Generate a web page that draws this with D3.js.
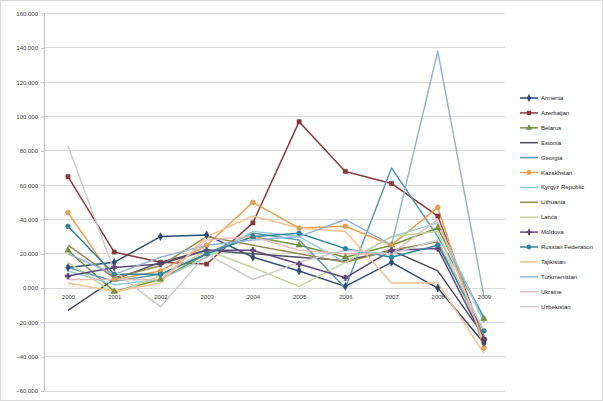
<!DOCTYPE html>
<html><head><meta charset="utf-8">
<script src="https://cdn.jsdelivr.net/npm/d3@7"></script>
<style>body{margin:0;background:#fff}svg{display:block;font-family:"Liberation Sans",Arial,sans-serif}</style>
</head><body><svg id="c" width="603" height="401"></svg>
<script>
const years = [2000,2001,2002,2003,2004,2005,2006,2007,2008,2009];
const yTicks = [-60,-40,-20,0,20,40,60,80,100,120,140,160];
const countries = ["Armenia","Azerbaijan","Belarus","Estonia","Georgia","Kazakhstan","Kyrgyz Republic","Lithuania","Latvia","Moldova","Russian Federation","Tajikistan","Turkmenistan","Ukraine","Uzbekistan"];
const armenia    = [12,15,30,31,18,10,1,15,0,-32];
const azerbaijan = [65,21,15,14,38,97,68,61,42,-30];
const belarus    = [22,-2,5,20,30,25,18,25,35,-18];
const estonia    = [-13,5,15,22,20,18,16,22,10,-28];
const georgia    = [12,4,8,20,32,28,0,70,30,-17];
const kazakhstan = [44,5,10,25,50,35,36,25,47,-35];
const kyrgyz     = [10,2,5,18,33,30,15,30,38,-20];
const lithuania  = [25,6,13,30,25,20,15,22,27,-28];
const latvia     = [15,-3,7,22,12,1,15,30,33,-32];
const moldova    = [7,12,14,22,22,14,6,22,23,-30];
const russia     = [36,8,8,20,30,32,23,18,25,-25];
const tajikistan = [3,-2,3,30,42,35,33,3,3,-38];
const turkmen    = [20,8,18,25,28,30,40,25,138,-5];
const ukraine    = [5,5,5,28,30,22,20,20,40,-32];
const uzbekistan = [83,10,-11,20,5,15,22,20,28,-25];
const seriesValues = [armenia,azerbaijan,belarus,estonia,georgia,kazakhstan,kyrgyz,lithuania,latvia,moldova,russia,tajikistan,turkmen,ukraine,uzbekistan];
const colors = ["#2c4d75","#8b3a3a","#77933c","#4d4d5f","#5a9bab","#e6a050","#93cddd","#948a54","#c3d69b","#604a7b","#31859c","#fac090","#95b3d7","#e6b9b8","#cccccc"];
const markers = ["diamond","square","triangle",null,null,"circle",null,null,null,"star","circle",null,null,null,null];

const svg = d3.select("#c");
svg.append("rect").attr("x",0.5).attr("y",0.5).attr("width",602).attr("height",400).attr("fill","#fff").attr("stroke","#d9d9d9");

const x = d3.scalePoint().domain(years).range([68,484]);
const y = d3.scaleLinear().domain([-60,160]).range([391,13.6]);
const left = 44, right = 505;

const g = svg.append("g");
g.selectAll("line.grid").data(yTicks).join("line")
  .attr("x1",left).attr("x2",right).attr("y1",d=>y(d)).attr("y2",d=>y(d))
  .attr("stroke","#d9d9d9").attr("stroke-width",1).attr("shape-rendering","crispEdges");
g.append("line").attr("x1",left).attr("x2",left).attr("y1",y(160)).attr("y2",y(-60)).attr("stroke","#bfbfbf").attr("shape-rendering","crispEdges");

const yAxis = d3.axisLeft(y).tickValues(yTicks).tickSize(3).tickFormat(d=>d3.format(".3f")(d));
const ya = svg.append("g").attr("transform",`translate(${left},0)`).call(yAxis);
ya.select(".domain").remove();
ya.selectAll("line").attr("stroke","#bfbfbf");
ya.selectAll("text").attr("font-size",6).attr("fill","#404040");

const xAxis = d3.axisBottom(x).tickSize(0).tickFormat(d=>String(d));
const xa = svg.append("g").attr("transform",`translate(0,${y(0)+4})`).call(xAxis);
xa.select(".domain").remove();
xa.selectAll("text").attr("font-size",6).attr("fill","#404040");

const line = d3.line().x((d,i)=>x(years[i])).y(d=>y(d));
const symMap = {diamond:d3.symbolDiamond,square:d3.symbolSquare,triangle:d3.symbolTriangle,circle:d3.symbolCircle,star:d3.symbolCross};

seriesValues.forEach((vals,k)=>{
  g.append("path").attr("d",line(vals)).attr("fill","none").attr("stroke",colors[k]).attr("stroke-width",1.5).attr("stroke-linejoin","round");
});
seriesValues.forEach((vals,k)=>{
  if(!markers[k]) return;
  const sym = d3.symbol().type(symMap[markers[k]]).size(18);
  g.selectAll(null).data(vals).join("path")
    .attr("transform",(d,i)=>`translate(${x(years[i])},${y(d)})`)
    .attr("d",sym).attr("fill",colors[k]).attr("stroke",d3.color(colors[k]).darker(0.5)).attr("stroke-width",0.5);
});

// legend
const lg = svg.append("g").attr("transform","translate(520,98)");
countries.forEach((c,k)=>{
  const row = lg.append("g").attr("transform",`translate(0,${k*14.9})`);
  row.append("line").attr("x1",0).attr("x2",18).attr("y1",0).attr("y2",0).attr("stroke",colors[k]).attr("stroke-width",1.5);
  if(markers[k]) row.append("path").attr("transform","translate(9,0)").attr("d",d3.symbol().type(symMap[markers[k]]).size(18)).attr("fill",colors[k]);
  row.append("text").attr("x",21).attr("y",2).attr("font-size",6).attr("fill","#202020").text(c);
});
</script></body></html>
